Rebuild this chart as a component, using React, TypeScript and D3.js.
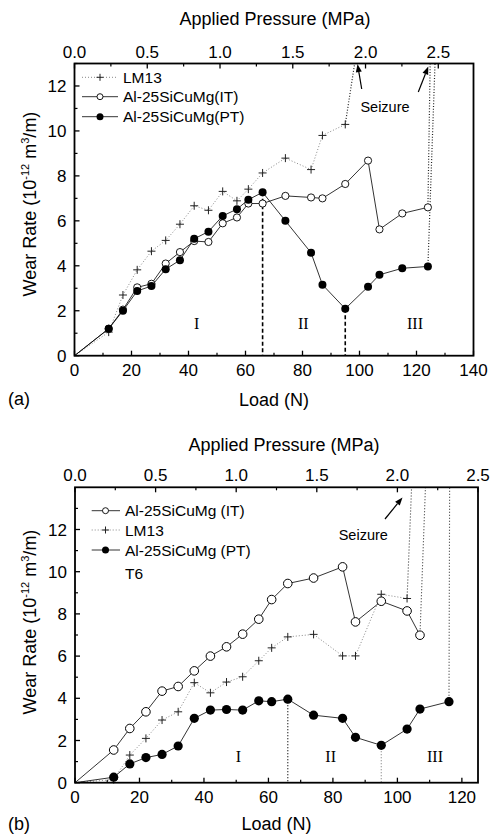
import React from "react";
import * as d3 from "d3";

// ---------- Panel (a) data ----------
const loadsA = [0, 12, 17, 22, 27, 32, 37, 42, 47, 52, 57, 61, 66, 74, 83, 87, 95, 103, 107, 115, 124];
const lm13LoadsA = [0, 12, 17, 22, 27, 32, 37, 42, 47, 52, 57, 61, 66, 74, 83, 87, 95];
const lm13WearA = [0, 1.05, 2.7, 3.82, 4.65, 5.13, 5.85, 6.67, 6.47, 7.31, 6.89, 7.41, 8.13, 8.79, 8.28, 9.8, 10.29];
const itWearA = [0, 1.2, 2.05, 3.04, 3.2, 4.1, 4.61, 5.1, 5.06, 5.89, 6.15, 6.77, 6.77, 7.11, 7.04, 7.0, 7.64, 8.68, 5.62, 6.33, 6.6];
const ptWearA = [0, 1.2, 2.0, 2.88, 3.1, 3.85, 4.25, 5.2, 5.52, 6.22, 6.52, 6.94, 7.27, 6.0, 4.58, 3.16, 2.09, 3.07, 3.6, 3.89, 3.97];
const seizureEndA = { lm13: [98.3, 13], it: [124.8, 13], pt: [126.5, 13] };
const regionLinesA = [66, 95];

// ---------- Panel (b) data ----------
const itLoadsB = [0, 12, 17, 22, 27, 32, 37, 42, 47, 52, 57, 61, 66, 74, 83, 87, 95, 103, 107];
const itWearB = [0, 1.55, 2.57, 3.36, 4.34, 4.56, 5.3, 6.0, 6.44, 7.04, 7.75, 8.68, 9.44, 9.7, 10.23, 7.62, 8.6, 8.14, 6.99];
const lm13LoadsB = [0, 12, 17, 22, 27, 32, 37, 42, 47, 52, 57, 61, 66, 74, 83, 87, 95, 103];
const lm13WearB = [0, 0.15, 1.31, 2.1, 2.97, 3.36, 4.74, 4.26, 4.77, 5.02, 5.78, 6.39, 6.91, 7.03, 6.01, 6.01, 8.93, 8.73];
const ptLoadsB = [0, 12, 17, 22, 27, 32, 37, 42, 47, 52, 57, 61, 66, 74, 83, 87, 95, 103, 107, 116];
const ptWearB = [0, 0.26, 0.89, 1.19, 1.34, 1.74, 3.05, 3.44, 3.47, 3.44, 3.88, 3.84, 3.96, 3.2, 3.05, 2.15, 1.77, 2.54, 3.49, 3.84];
const seizureEndB = { lm13: [104.4, 14], it: [108.7, 14], pt: [116.2, 14] };
const regionLinesB = [66, 95];

// ---------- Axis ticks ----------
const loadTicksA = [0, 20, 40, 60, 80, 100, 120, 140];
const loadTicksB = [0, 20, 40, 60, 80, 100, 120];
const wearTicks = [0, 2, 4, 6, 8, 10, 12];
const pressureTicks = [0, 0.5, 1.0, 1.5, 2.0, 2.5];
const regionNames = ["I", "II", "III"];

const SANS = "'Liberation Sans', Arial, sans-serif";
const SERIF = "'Liberation Serif', 'Times New Roman', serif";

type Pt = [number, number];
const zip = (xs: number[], ys: number[]): Pt[] => xs.map((x, i) => [x, ys[i]]);

function Plus({ x, y, s = 4 }: { x: number; y: number; s?: number }) {
  return <path d={`M${x - s},${y}H${x + s}M${x},${y - s}V${y + s}`} stroke="#222" strokeWidth={1} fill="none" />;
}

function YLabel({ x, y }: { x: number; y: number }) {
  return (
    <text transform={`translate(${x},${y}) rotate(-90)`} textAnchor="middle" fontFamily={SANS} fontSize={18} fill="#000">
      Wear Rate (10
      <tspan fontSize={11} dy={-7}>-12</tspan>
      <tspan dy={7}> m</tspan>
      <tspan fontSize={11} dy={-7}>3</tspan>
      <tspan dy={7}>/m)</tspan>
    </text>
  );
}

function Frame({ x0, x1, yT, yB, xs, ys, ps, loadTicks, loadMinor, pressMinor, wearMinor, pressTicks }: any) {
  const els: any[] = [];
  // bottom major
  loadTicks.forEach((t: number) => {
    els.push(<line key={"bx" + t} x1={xs(t)} x2={xs(t)} y1={yB} y2={yB - 5} stroke="#000" strokeWidth={1.3} />);
    els.push(
      <text key={"bxl" + t} x={xs(t)} y={yB + 20} textAnchor="middle" fontFamily={SANS} fontSize={17}>
        {t}
      </text>
    );
  });
  loadMinor.forEach((t: number) => {
    els.push(<line key={"bm" + t} x1={xs(t)} x2={xs(t)} y1={yB} y2={yB - 3} stroke="#000" strokeWidth={1.2} />);
  });
  wearTicks.forEach((t) => {
    els.push(<line key={"ly" + t} x1={x0} x2={x0 + 5} y1={ys(t)} y2={ys(t)} stroke="#000" strokeWidth={1.3} />);
    els.push(
      <text key={"lyl" + t} x={x0 - 8} y={ys(t) + 6} textAnchor="end" fontFamily={SANS} fontSize={17}>
        {t}
      </text>
    );
  });
  wearMinor.forEach((t: number) => {
    els.push(<line key={"lm" + t} x1={x0} x2={x0 + 3} y1={ys(t)} y2={ys(t)} stroke="#000" strokeWidth={1.2} />);
  });
  pressTicks.forEach((t: number) => {
    els.push(<line key={"tp" + t} x1={ps(t)} x2={ps(t)} y1={yT} y2={yT + 5} stroke="#000" strokeWidth={1.3} />);
    els.push(
      <text key={"tpl" + t} x={ps(t)} y={yT - 6} textAnchor="middle" fontFamily={SANS} fontSize={17}>
        {t.toFixed(1)}
      </text>
    );
  });
  pressMinor.forEach((t: number) => {
    els.push(<line key={"tm" + t} x1={ps(t)} x2={ps(t)} y1={yT} y2={yT + 3} stroke="#000" strokeWidth={1.2} />);
  });
  els.push(<rect key="frame" x={x0} y={yT} width={x1 - x0} height={yB - yT} fill="none" stroke="#000" strokeWidth={1.8} />);
  return <g>{els}</g>;
}

function Arrow({ x1, y1, x2, y2 }: { x1: number; y1: number; x2: number; y2: number }) {
  const a = Math.atan2(y2 - y1, x2 - x1);
  const L = 8, W = 3;
  const bx = x2 - L * Math.cos(a), by = y2 - L * Math.sin(a);
  const px = -Math.sin(a) * W, py = Math.cos(a) * W;
  return (
    <g>
      <line x1={x1} y1={y1} x2={bx} y2={by} stroke="#000" strokeWidth={1.2} />
      <path d={`M${x2},${y2}L${bx + px},${by + py}L${bx - px},${by - py}Z`} fill="#000" />
    </g>
  );
}

export default function App() {
  // ---- Panel (a) scales ----
  const xa = d3.scaleLinear().domain([0, 140]).range([74.5, 473.5]);
  const ya = d3.scaleLinear().domain([0, 13]).range([355.7, 63.5]);
  const pa = d3.scaleLinear().domain([0, 2.742]).range([74.5, 473.5]);
  const lineA = d3.line<Pt>().x((d) => xa(d[0])).y((d) => ya(d[1]));

  // ---- Panel (b) scales ----
  const xb = d3.scaleLinear().domain([0, 125]).range([75, 478]);
  const yb = d3.scaleLinear().domain([0, 14]).range([782.7, 487.3]);
  const pb = d3.scaleLinear().domain([0, 2.5]).range([75, 478]);
  const lineB = d3.line<Pt>().x((d) => xb(d[0])).y((d) => yb(d[1]));

  const lmA = zip(lm13LoadsA, lm13WearA);
  const itA = zip(loadsA, itWearA);
  const ptA = zip(loadsA, ptWearA);
  const lmB = zip(lm13LoadsB, lm13WearB);
  const itB = zip(itLoadsB, itWearB);
  const ptB = zip(ptLoadsB, ptWearB);

  const minorLoadA = d3.range(10, 140, 20);
  const minorLoadB = d3.range(10, 125, 20);
  const minorWear = [1, 3, 5, 7, 9, 11, 13];
  const minorPress = [0.25, 0.75, 1.25, 1.75, 2.25];

  const last = (a: Pt[]) => a[a.length - 1];

  return (
    <svg width={492} height={835} style={{ display: "block", position: "absolute", left: 0, top: 0 }}>
      <rect width={492} height={835} fill="#fff" />
      {/* ============ Panel (a) ============ */}
      <text x={275} y={25} textAnchor="middle" fontFamily={SANS} fontSize={18}>Applied Pressure (MPa)</text>
      <YLabel x={36} y={204} />
      <text x={274} y={406} textAnchor="middle" fontFamily={SANS} fontSize={18}>Load (N)</text>
      <text x={8} y={405} fontFamily={SANS} fontSize={18}>(a)</text>

      {/* region dashed lines */}
      {regionLinesA.map((L) => {
        const p = ptA.find((d) => d[0] === L)!;
        return <line key={"ra" + L} x1={xa(L)} x2={xa(L)} y1={ya(p[1])} y2={ya(0)} stroke="#000" strokeWidth={1.6} strokeDasharray="4,2.5" />;
      })}
      {/* LM13 */}
      <path d={lineA(lmA)!} fill="none" stroke="#888" strokeWidth={1} strokeDasharray="1,2" />
      <path d={lineA([last(lmA), seizureEndA.lm13 as Pt])!} fill="none" stroke="#222" strokeWidth={1.2} strokeDasharray="1,1.8" />
      {/* IT */}
      <path d={lineA(itA)!} fill="none" stroke="#000" strokeWidth={0.8} />
      <path d={lineA([last(itA), seizureEndA.it as Pt])!} fill="none" stroke="#222" strokeWidth={1.2} strokeDasharray="1,1.8" />
      {/* PT */}
      <path d={lineA(ptA)!} fill="none" stroke="#000" strokeWidth={0.8} />
      <path d={lineA([last(ptA), seizureEndA.pt as Pt])!} fill="none" stroke="#222" strokeWidth={1.2} strokeDasharray="1,1.8" />
      {lmA.slice(1).map((d, i) => <Plus key={"lpa" + i} x={xa(d[0])} y={ya(d[1])} s={4} />)}
      {itA.slice(1).map((d, i) => <circle key={"ica" + i} cx={xa(d[0])} cy={ya(d[1])} r={3.6} fill="#fff" stroke="#000" strokeWidth={0.9} />)}
      {ptA.slice(1).map((d, i) => <circle key={"pca" + i} cx={xa(d[0])} cy={ya(d[1])} r={4} fill="#000" />)}

      {/* region labels */}
      <text x={196.7} y={329} textAnchor="middle" fontFamily={SERIF} fontSize={16}>{regionNames[0]}</text>
      <text x={303.3} y={329} textAnchor="middle" fontFamily={SERIF} fontSize={16}>{regionNames[1]}</text>
      <text x={415} y={329} textAnchor="middle" fontFamily={SERIF} fontSize={16}>{regionNames[2]}</text>

      {/* seizure annotation */}
      <text x={385} y={112} textAnchor="middle" fontFamily={SANS} fontSize={14.5}>Seizure</text>
      <Arrow x1={361.7} y1={89} x2={357.5} y2={64} />
      <Arrow x1={418.3} y1={92} x2={428.3} y2={66.5} />

      {/* legend (a) */}
      <line x1={82} x2={118} y1={77.3} y2={77.3} stroke="#888" strokeWidth={1} strokeDasharray="1,2" />
      <Plus x={100} y={77.3} s={3.5} />
      <text x={123} y={83} fontFamily={SANS} fontSize={15.5}>LM13</text>
      <line x1={82} x2={118} y1={96.7} y2={96.7} stroke="#000" strokeWidth={0.8} />
      <circle cx={100} cy={96.7} r={3} fill="#fff" stroke="#000" strokeWidth={0.9} />
      <text x={123} y={102.4} fontFamily={SANS} fontSize={15.5}>Al-25SiCuMg(IT)</text>
      <line x1={82} x2={118} y1={116.7} y2={116.7} stroke="#000" strokeWidth={0.8} />
      <circle cx={100} cy={116.7} r={3.5} fill="#000" />
      <text x={123} y={122.4} fontFamily={SANS} fontSize={15.5}>Al-25SiCuMg(PT)</text>

      <Frame x0={74.5} x1={473.5} yT={63.5} yB={355.7} xs={xa} ys={ya} ps={pa}
        loadTicks={loadTicksA} loadMinor={minorLoadA} wearMinor={minorWear} pressTicks={pressureTicks} pressMinor={minorPress} />

      {/* ============ Panel (b) ============ */}
      <text x={284} y={451} textAnchor="middle" fontFamily={SANS} fontSize={18}>Applied Pressure (MPa)</text>
      <YLabel x={36} y={622} />
      <text x={276.5} y={830} textAnchor="middle" fontFamily={SANS} fontSize={18}>Load (N)</text>
      <text x={8} y={830} fontFamily={SANS} fontSize={18}>(b)</text>

      {regionLinesB.map((L, k) => {
        const p = ptB.find((d) => d[0] === L)!;
        return <line key={"rb" + L} x1={xb(L)} x2={xb(L)} y1={yb(p[1])} y2={yb(0)} stroke={k === 0 ? "#000" : "#888"} strokeWidth={1.2} strokeDasharray="1,2" />;
      })}
      <path d={lineB(lmB)!} fill="none" stroke="#888" strokeWidth={1} strokeDasharray="1,2" />
      <path d={lineB([last(lmB), seizureEndB.lm13 as Pt])!} fill="none" stroke="#333" strokeWidth={1.1} strokeDasharray="1,2" />
      <path d={lineB(itB)!} fill="none" stroke="#000" strokeWidth={0.8} />
      <path d={lineB([last(itB), seizureEndB.it as Pt])!} fill="none" stroke="#333" strokeWidth={1.1} strokeDasharray="1,2" />
      <path d={lineB(ptB)!} fill="none" stroke="#000" strokeWidth={0.8} />
      <path d={lineB([last(ptB), seizureEndB.pt as Pt])!} fill="none" stroke="#333" strokeWidth={1.1} strokeDasharray="1,2" />
      {lmB.slice(1).map((d, i) => <Plus key={"lpb" + i} x={xb(d[0])} y={yb(d[1])} s={4} />)}
      {itB.slice(1).map((d, i) => <circle key={"icb" + i} cx={xb(d[0])} cy={yb(d[1])} r={4.3} fill="#fff" stroke="#000" strokeWidth={1} />)}
      {ptB.slice(1).map((d, i) => <circle key={"pcb" + i} cx={xb(d[0])} cy={yb(d[1])} r={4.6} fill="#000" />)}

      <text x={238.3} y={762} textAnchor="middle" fontFamily={SERIF} fontSize={16}>{regionNames[0]}</text>
      <text x={330.7} y={762} textAnchor="middle" fontFamily={SERIF} fontSize={16}>{regionNames[1]}</text>
      <text x={435} y={762} textAnchor="middle" fontFamily={SERIF} fontSize={16}>{regionNames[2]}</text>

      <text x={363.3} y={540} textAnchor="middle" fontFamily={SANS} fontSize={14.5}>Seizure</text>
      <Arrow x1={385} y1={519} x2={402.5} y2={497.5} />

      {/* legend (b) */}
      <line x1={91.7} x2={120} y1={510.7} y2={510.7} stroke="#000" strokeWidth={0.8} />
      <circle cx={105.5} cy={510.7} r={3} fill="#fff" stroke="#000" strokeWidth={0.9} />
      <text x={125} y={516.4} fontFamily={SANS} fontSize={15.5}>Al-25SiCuMg (IT)</text>
      <line x1={91.7} x2={120} y1={530} y2={530} stroke="#888" strokeWidth={1} strokeDasharray="1,2" />
      <Plus x={105.5} y={530} s={3.5} />
      <text x={125} y={535.7} fontFamily={SANS} fontSize={15.5}>LM13</text>
      <line x1={91.7} x2={120} y1={550} y2={550} stroke="#000" strokeWidth={0.8} />
      <circle cx={105.5} cy={550} r={3.5} fill="#000" />
      <text x={125} y={555.7} fontFamily={SANS} fontSize={15.5}>Al-25SiCuMg (PT)</text>
      <text x={125} y={579} fontFamily={SANS} fontSize={15.5}>T6</text>

      <Frame x0={75} x1={478} yT={487.3} yB={782.7} xs={xb} ys={yb} ps={pb}
        loadTicks={loadTicksB} loadMinor={minorLoadB} wearMinor={minorWear} pressTicks={pressureTicks} pressMinor={minorPress} />
    </svg>
  );
}
